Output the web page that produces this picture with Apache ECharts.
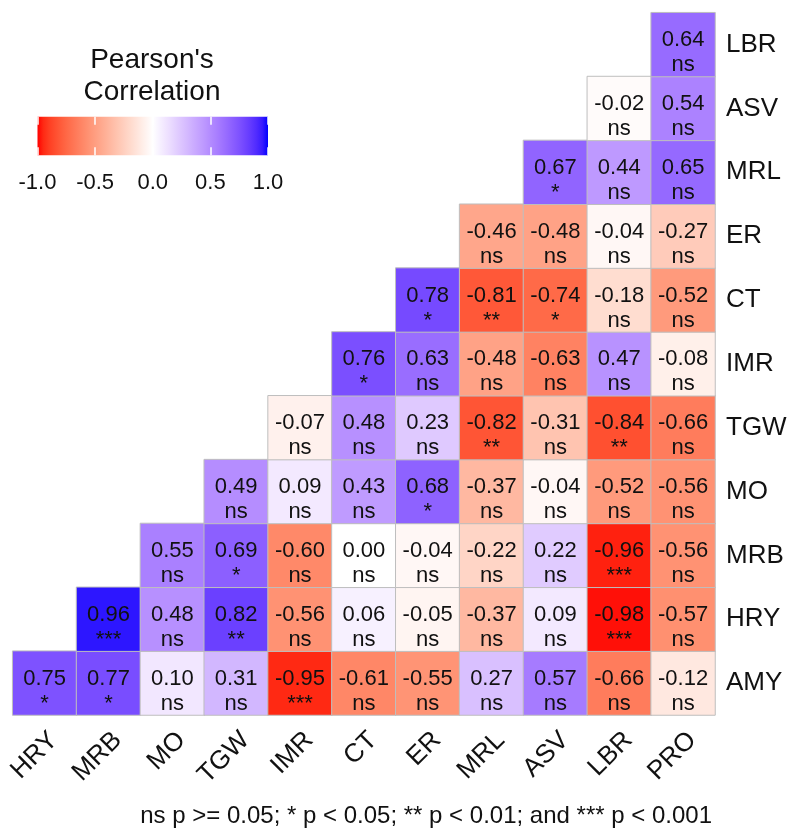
<!DOCTYPE html>
<html>
<head>
<meta charset="utf-8">
<script src="https://cdn.jsdelivr.net/npm/echarts@6/dist/echarts.min.js"></script>
<style>
  html, body { margin: 0; padding: 0; background: #fff; }
  #main { width: 790px; height: 829px; }
</style>
</head>
<body>
<div id="main"></div>
<script>
// columns (x, left to right) and rows (y, bottom to top)
var cols = ['HRY', 'MRB', 'MO', 'TGW', 'IMR', 'CT', 'ER', 'MRL', 'ASV', 'LBR', 'PRO'];
var rows = ['AMY', 'HRY', 'MRB', 'MO', 'TGW', 'IMR', 'CT', 'ER', 'MRL', 'ASV', 'LBR'];

// row k starts at column k
var amy = [0.75, 0.77, 0.10, 0.31, -0.95, -0.61, -0.55, 0.27, 0.57, -0.66, -0.12];
var hry = [0.96, 0.48, 0.82, -0.56, 0.06, -0.05, -0.37, 0.09, -0.98, -0.57];
var mrb = [0.55, 0.69, -0.60, 0.00, -0.04, -0.22, 0.22, -0.96, -0.56];
var mo = [0.49, 0.09, 0.43, 0.68, -0.37, -0.04, -0.52, -0.56];
var tgw = [-0.07, 0.48, 0.23, -0.82, -0.31, -0.84, -0.66];
var imr = [0.76, 0.63, -0.48, -0.63, 0.47, -0.08];
var ct = [0.78, -0.81, -0.74, -0.18, -0.52];
var er = [-0.46, -0.48, -0.04, -0.27];
var mrl = [0.67, 0.44, 0.65];
var asv = [-0.02, 0.54];
var lbr = [0.64];

var amySig = ['*', '*', 'ns', 'ns', '***', 'ns', 'ns', 'ns', 'ns', 'ns', 'ns'];
var hrySig = ['***', 'ns', '**', 'ns', 'ns', 'ns', 'ns', 'ns', '***', 'ns'];
var mrbSig = ['ns', '*', 'ns', 'ns', 'ns', 'ns', 'ns', '***', 'ns'];
var moSig = ['ns', 'ns', 'ns', '*', 'ns', 'ns', 'ns', 'ns'];
var tgwSig = ['ns', 'ns', 'ns', '**', 'ns', '**', 'ns'];
var imrSig = ['*', 'ns', 'ns', 'ns', 'ns', 'ns'];
var ctSig = ['*', '**', '*', 'ns', 'ns'];
var erSig = ['ns', 'ns', 'ns', 'ns'];
var mrlSig = ['*', 'ns', 'ns'];
var asvSig = ['ns', 'ns'];
var lbrSig = ['ns'];

var legendTicks = [-1.0, -0.5, 0.0, 0.5, 1.0];
var footNote = 'ns p >= 0.05; * p < 0.05; ** p < 0.01; and *** p < 0.001';

var rowValues = [amy, hry, mrb, mo, tgw, imr, ct, er, mrl, asv, lbr];
var rowSigs = [amySig, hrySig, mrbSig, moSig, tgwSig, imrSig, ctSig, erSig, mrlSig, asvSig, lbrSig];

var data = [];
rowValues.forEach(function (vals, r) {
  vals.forEach(function (v, i) {
    data.push([r + i, r, v, rowSigs[r][i]]);
  });
});

// red - white - blue, interpolated in Lab like ggplot's gradient2
function toLin(c) { c /= 255; return c <= 0.04045 ? c / 12.92 : Math.pow((c + 0.055) / 1.055, 2.4); }
function toSrgb(c) {
  c = c <= 0.0031308 ? 12.92 * c : 1.055 * Math.pow(c, 1 / 2.4) - 0.055;
  return Math.round(Math.max(0, Math.min(1, c)) * 255);
}
function rgbToLab(rgb) {
  var r = toLin(rgb[0]), g = toLin(rgb[1]), b = toLin(rgb[2]);
  var x = (0.4124 * r + 0.3576 * g + 0.1805 * b) / 0.95047;
  var y = 0.2126 * r + 0.7152 * g + 0.0722 * b;
  var z = (0.0193 * r + 0.1192 * g + 0.9505 * b) / 1.08883;
  function f(t) { return t > 0.008856 ? Math.cbrt(t) : 7.787 * t + 16 / 116; }
  var fx = f(x), fy = f(y), fz = f(z);
  return [116 * fy - 16, 500 * (fx - fy), 200 * (fy - fz)];
}
function labToRgb(lab) {
  var fy = (lab[0] + 16) / 116, fx = fy + lab[1] / 500, fz = fy - lab[2] / 200;
  function fi(t) { var t3 = t * t * t; return t3 > 0.008856 ? t3 : (t - 16 / 116) / 7.787; }
  var x = fi(fx) * 0.95047, y = fi(fy), z = fi(fz) * 1.08883;
  var r = 3.2406 * x - 1.5372 * y - 0.4986 * z;
  var g = -0.9689 * x + 1.8758 * y + 0.0415 * z;
  var b = 0.0557 * x - 0.2040 * y + 1.0570 * z;
  return 'rgb(' + toSrgb(r) + ',' + toSrgb(g) + ',' + toSrgb(b) + ')';
}
var labLow = rgbToLab([255, 0, 0]), labMid = rgbToLab([255, 255, 255]), labHigh = rgbToLab([0, 0, 255]);
function colorAt(v) {
  var a = v < 0 ? labLow : labHigh, t = Math.abs(v);
  return labToRgb([0, 1, 2].map(function (k) { return labMid[k] + (a[k] - labMid[k]) * t; }));
}
var palette = [];
for (var i = 0; i <= 40; i++) palette.push(colorAt(-1 + i / 20));

var chart = echarts.init(document.getElementById('main'));
var font = 'Liberation Sans, Arial, sans-serif';

var option = {
  backgroundColor: '#fff',
  textStyle: { fontFamily: font },
  grid: [
    { left: 12.7, top: 12.7, width: 702.3, height: 702.3 },
    {
      left: 37.5, top: 116.7, width: 230.5, height: 38.5, show: true, borderWidth: 0,
      backgroundColor: {
        type: 'linear', x: 0, y: 0, x2: 1, y2: 0,
        colorStops: palette.map(function (c, i) { return { offset: i / 40, color: c }; })
      }
    }
  ],
  xAxis: [
    {
      type: 'category', data: cols, gridIndex: 0,
      axisLine: { show: false }, axisTick: { show: false }, splitLine: { show: false },
      axisLabel: {
        interval: 0, rotate: 45, fontSize: 26, color: '#111', margin: 12,
        verticalAlign: 'top', fontFamily: font
      }
    },
    {
      type: 'value', gridIndex: 1, min: -1, max: 1, interval: 0.5, position: 'bottom',
      axisLine: { show: false }, splitLine: { show: false },
      axisTick: { show: true, inside: true, length: 8, lineStyle: { color: '#fff', width: 1.5 } },
      axisLabel: {
        fontSize: 22, color: '#111', margin: 17, fontFamily: font,
        formatter: function (v) { return v.toFixed(1); }
      }
    },
    {
      type: 'value', gridIndex: 1, min: -1, max: 1, interval: 0.5, position: 'top',
      axisLine: { show: false }, splitLine: { show: false }, axisLabel: { show: false },
      axisTick: { show: true, inside: true, length: 8, lineStyle: { color: '#fff', width: 1.5 } }
    }
  ],
  yAxis: [
    {
      type: 'category', data: rows, gridIndex: 0, position: 'right',
      axisLine: { show: false }, axisTick: { show: false }, splitLine: { show: false },
      axisLabel: { fontSize: 26, color: '#111', margin: 11, padding: [4, 0, 0, 0], fontFamily: font }
    },
    { type: 'value', gridIndex: 1, show: false, min: 0, max: 1 }
  ],
  visualMap: {
    show: false, type: 'continuous', min: -1, max: 1, dimension: 2, seriesIndex: 0,
    inRange: { color: palette }
  },
  graphic: [
    {
      type: 'text', x: 152, y: 44,
      style: {
        text: "Pearson's\nCorrelation", textAlign: 'center',
        fontSize: 28, lineHeight: 32, fill: '#111', fontFamily: font
      }
    },
    {
      type: 'text', x: 712, y: 828,
      style: {
        text: footNote, textAlign: 'right', textVerticalAlign: 'bottom',
        fontSize: 24, fill: '#111', fontFamily: font
      }
    }
  ],
  series: [
    {
      type: 'heatmap', xAxisIndex: 0, yAxisIndex: 0, data: data,
      itemStyle: { borderColor: '#bebebe', borderWidth: 1 },
      label: {
        show: true, fontSize: 22, lineHeight: 25, color: '#111', fontFamily: font,
        offset: [0, 8],
        formatter: function (p) { return p.data[2].toFixed(2) + '\n' + p.data[3]; }
      },
      emphasis: { disabled: true }
    }
  ]
};

option && chart.setOption(option);
window.addEventListener('resize', function () {
  chart.resize();
});
</script>
</body>
</html>
